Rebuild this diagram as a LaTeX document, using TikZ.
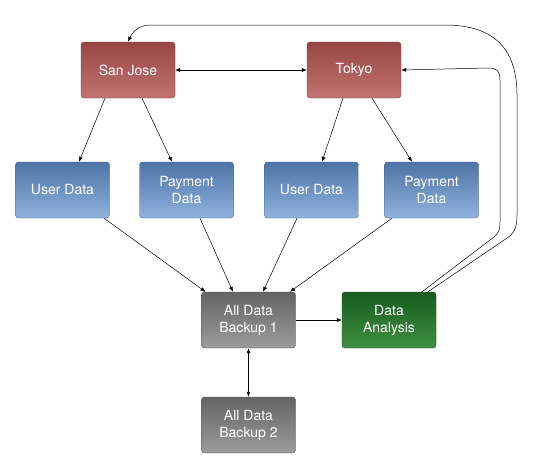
\documentclass[tikz,border=0pt]{standalone}
\usepackage{fontspec}
\setmainfont{TeX Gyre Heros}
\usetikzlibrary{arrows.meta}

\definecolor{redtop}{RGB}{152,70,68}
\definecolor{redbot}{RGB}{192,116,113}
\definecolor{bluetop}{RGB}{78,116,166}
\definecolor{bluebot}{RGB}{143,178,222}
\definecolor{graytop}{RGB}{100,100,100}
\definecolor{graybot}{RGB}{156,156,156}
\definecolor{greentop}{RGB}{24,92,30}
\definecolor{greenbot}{RGB}{62,144,66}

\begin{document}
\begin{tikzpicture}[x=1pt,y=1pt,yscale=-1,xscale=1,
  box/.style={minimum width=94pt,minimum height=56pt,rounded corners=3pt,
    text=white,align=center,inner sep=1pt,line width=0.4pt,
    font=\fontsize{14}{17}\selectfont},
  site/.style={box,top color=redtop,bottom color=redbot,draw=redtop!80!black},
  store/.style={box,top color=bluetop,bottom color=bluebot,draw=bluetop!85!black},
  backup/.style={box,top color=graytop,bottom color=graybot,draw=graytop!80!black},
  analysis/.style={box,top color=greentop,bottom color=greenbot,draw=greentop!80!black},
  link/.style={line width=0.5pt,-{Latex[length=5pt,width=4pt]}},
  twoway/.style={line width=0.5pt,{Latex[length=5pt,width=4pt]}-{Latex[length=5pt,width=4pt]}}]
%set diagram frame: 554 x 458
\path[use as bounding box] (0,0) rectangle (554,458);

%Sites
\node[site] (sj) at (128,70) {San Jose};
\node[site] (tk) at (354,70) {Tokyo};
%Stores
\node[store] (ud1) at (62.5,190) {User Data};
\node[store] (pd1) at (186.5,190) {Payment\\Data};
\node[store] (ud2) at (311.5,190) {User Data};
\node[store] (pd2) at (431.5,190) {Payment\\Data};
%Backups
\node[backup] (bk1) at (248.5,320) {All Data\\Backup 1};
\node[backup] (bk2) at (248.5,425) {All Data\\Backup 2};
\node[analysis] (da) at (389,320) {Data\\Analysis};

%Site to site
\draw[twoway] (sj.east) -- (tk.west);
%Sites to stores
\draw[link] ([xshift=-23]sj.south) -- ([xshift=16.5]ud1.north);
\draw[link] ([xshift=14]sj.south) -- ([xshift=-14.5]pd1.north);
\draw[link] ([xshift=-11]tk.south) -- ([xshift=10.5]ud2.north);
\draw[link] ([xshift=18]tk.south) -- ([xshift=-19.5]pd2.north);
%Stores to backup
\draw[link] ([xshift=41.5]ud1.south) -- ([xshift=-43]bk1.north);
\draw[link] ([xshift=13.5]pd1.south) -- ([xshift=-15.5]bk1.north);
\draw[link] ([xshift=-14.5]ud2.south) -- ([xshift=14.5]bk1.north);
\draw[link] ([xshift=-39.5]pd2.south) -- ([xshift=41.5]bk1.north);
%Backup links
\draw[link] (bk1.east) -- (da.west);
\draw[twoway] (bk1.south) -- (bk2.north);

%Feedback loops
\coordinate (da1) at ([xshift=33]da.north);
\coordinate (da2) at ([xshift=39]da.north);
\draw[link] (da1) -- (494,237) .. controls (499,233) and (500,229) .. (500,222)
  -- (500,80) .. controls (500,71) and (497,68) .. (488,68) -- (tk.east);
\draw[link] (da2) -- (510,236) .. controls (515,231) and (517,226) .. (517,215)
  -- (517,95) .. controls (517,45) and (490,25) .. (445,25)
  -- (150,25) .. controls (140,25) and (133,31) .. (sj.north);

\end{tikzpicture}
\end{document}
